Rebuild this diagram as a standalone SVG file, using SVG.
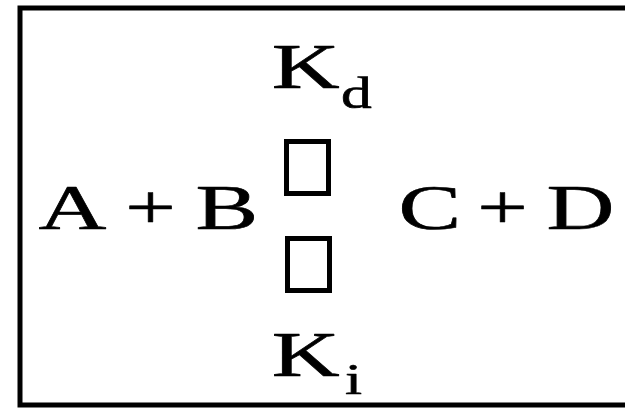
<svg xmlns="http://www.w3.org/2000/svg" width="625" height="410" viewBox="0 0 625 410">
<style>
.t{font-family:"Liberation Serif","Times New Roman",serif;fill:#000;stroke:#000;stroke-width:0.6;stroke-linejoin:round}
.big{font-size:64px}
.sub{font-size:44px}
.box{fill:none;stroke:#000;stroke-width:5}
</style>
<rect width="625" height="410" fill="#fff"/>
<g id="frame"><path class="box" d="M640 8 H20 V405 H640"/></g>
<g id="kd">
<text class="t big" transform="translate(271.8,88) scale(1.47,1)">K</text>
<text class="t sub" transform="translate(341,108) scale(1.4,1)">d</text>
</g>
<g id="reactants">
<text class="t big" transform="translate(38.6,229) scale(1.47,1)">A</text>
<text class="t big" transform="translate(125.2,229) scale(1.4,1)">+</text>
<text class="t big" transform="translate(195.4,229) scale(1.47,1)">B</text>
</g>
<g id="products">
<text class="t big" transform="translate(398.4,229) scale(1.47,1)">C</text>
<text class="t big" transform="translate(477.2,229) scale(1.4,1)">+</text>
<text class="t big" transform="translate(546.5,229) scale(1.47,1)">D</text>
</g>
<g id="arrows">
<rect class="box" x="286.5" y="141.5" width="42" height="52"/>
<rect class="box" x="287.5" y="238.5" width="42" height="52"/>
</g>
<g id="ki">
<text class="t big" transform="translate(271.8,376) scale(1.47,1)">K</text>
<text class="t sub" transform="translate(345,394) scale(1.4,1)">i</text>
</g>
</svg>
